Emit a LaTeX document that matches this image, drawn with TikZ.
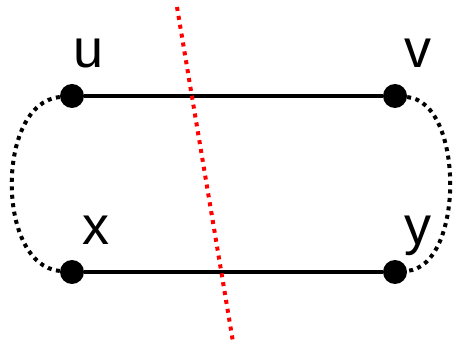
\documentclass[tikz,border=0pt]{standalone}
\usepackage{fontspec}
\setmainfont{Liberation Sans}
\usepackage{tikz}
\usetikzlibrary{positioning}
\tikzset{
  vtx/.style={circle,fill=black,inner sep=0pt,minimum size=24pt},
  vlbl/.style={anchor=base,inner sep=0pt,font=\fontsize{54}{60}\selectfont},
  edg/.style={line width=4.5pt,draw=black},
  edgd/.style={line width=4pt,draw=black,dash pattern=on 4pt off 4.5pt},
  cutln/.style={line width=4pt,draw=red,dash pattern=on 4pt off 5pt},
}
\begin{document}
\begin{tikzpicture}[x=1pt,y=-1pt]
  \useasboundingbox (0,0) rectangle (455,347);
  \node[vtx] (u) at (72,96)  {};
  \node[vtx] (v) at (395,96) {};
  \node[vtx] (x) at (72,272) {};
  \node[vtx] (y) at (395,272) {};

  \node[vlbl] (ulbl) at (89,68)   {u};
  \node[vlbl] (vlbl) at (418,68)  {v};
  \node[vlbl] (xlbl) at (96,245)  {x};
  \node[vlbl] (ylbl) at (418,245) {y};

  \draw[edg] (u) -- (v);
  \draw[edg] (x) -- (y);

  \draw[edgd] (u) to[out=185,in=175,looseness=0.95] (x);
  \draw[edgd] (v) to[out=-5,in=5,looseness=0.85] (y);

  \coordinate (cuttop) at (177,7);
  \coordinate (cutbot) at (233,342);
  \draw[cutln] (cuttop) -- (cutbot);
\end{tikzpicture}
\end{document}
